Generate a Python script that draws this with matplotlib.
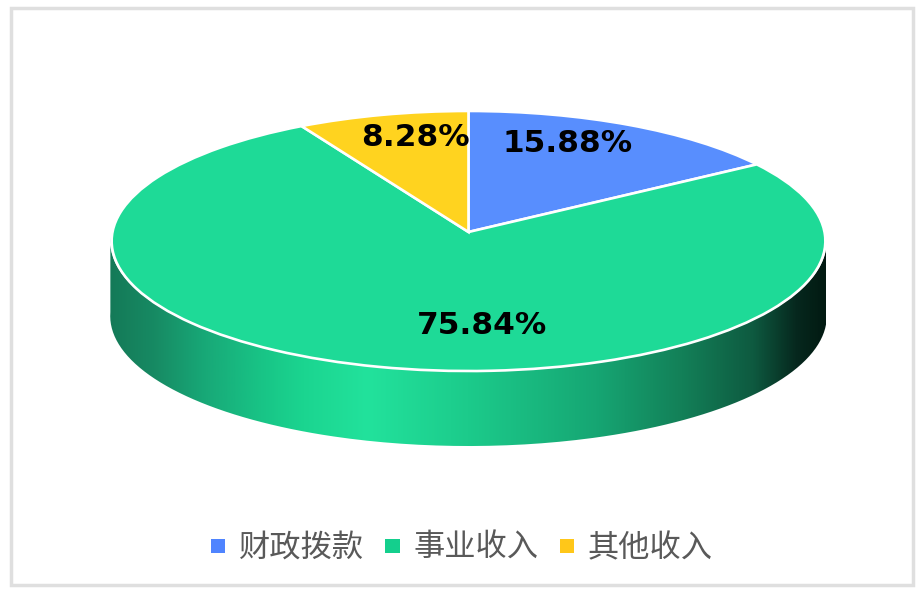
"""Perspective pie with an extruded gradient rim, drawn with matplotlib."""
import numpy as np
import matplotlib
matplotlib.use("Agg")
import matplotlib.pyplot as plt
from matplotlib.colors import LinearSegmentedColormap
from matplotlib.patches import Patch, PathPatch, Rectangle
from matplotlib.path import Path
from matplotlib.transforms import Transform

plt.rcParams["font.family"] = ["Noto Sans CJK SC", "DejaVu Sans"]

categories = ["财政拨款", "事业收入", "其他收入"]
shares = [15.88, 75.84, 8.28]
slice_colors = ["#588efe", "#1eda97", "#ffd31f"]
legend_colors = ["#4f84ff", "#14cf8d", "#ffc719"]

# label centres, in pixels
label_xy = [(568, 143), (482, 326), (415, 137)]

# rim shading, left to right (fraction of width, colour)
rim_stops = [
    (0.00, "#147a58"), (0.06, "#178a63"), (0.13, "#18a877"), (0.21, "#18c486"),
    (0.27, "#1bd590"), (0.36, "#22e29c"), (0.50, "#1ccb8b"), (0.68, "#16a673"),
    (0.80, "#138058"), (0.90, "#0e5a40"), (0.96, "#06281e"), (1.00, "#021a12"),
]

W, H = 924, 594
CX, CY = 468.5, 232.0   # where the pie centre lands
RX, RY = 356.0, 129.4
TILT = 0.0692           # far side of the disc shrinks a little
DEPTH = 75


class DiscView(Transform):
    """Unit circle -> tilted disc, in pixel coordinates."""
    input_dims = 2
    output_dims = 2

    def transform_non_affine(self, values):
        x, y = np.asarray(values).T
        d = 1 + TILT * y
        return np.column_stack([CX + RX * x / d, CY - RY * y / d])


fig = plt.figure(figsize=(W / 100, H / 100), dpi=100, facecolor="white")
ax = fig.add_axes([0, 0, 1, 1])

view = DiscView()
wedges, _, autotexts = ax.pie(
    shares, colors=slice_colors, startangle=90, counterclock=False,
    autopct="%.2f%%", wedgeprops={"edgecolor": "white", "linewidth": 1.9, "zorder": 3},
)
for w in wedges:
    w.set_transform(view + ax.transData)
for t, xy in zip(autotexts, label_xy):
    t.set_position(xy)
    t.set_ha("center")
    t.set_va("center")
    t.set_family("DejaVu Sans")
    t.set_fontweight("bold")
    t.set_fontsize(22.5)
    t.set_color("black")
    t.set_zorder(5)

# rim: lower half of the disc edge, swept down by DEPTH (a hair wider than the disc)
th = np.linspace(np.pi + 0.04, 2 * np.pi - 0.04, 200)
edge = view.transform(np.column_stack([np.cos(th) * 1.004, np.sin(th)]))
rim = np.vstack([edge, edge[::-1] + [0, DEPTH]])
rim_patch = PathPatch(Path(rim, closed=False), facecolor="none", edgecolor="none")
ax.add_patch(rim_patch)

rim_cmap = LinearSegmentedColormap.from_list("rim", rim_stops, N=256)
img = ax.imshow(np.linspace(0, 1, 256)[None, :], cmap=rim_cmap, aspect="auto",
                extent=(110, 826, H, 0), zorder=1)
img.set_clip_path(rim_patch)

ax.add_patch(Rectangle((11, 7.5), 901.5, 577, facecolor="none", edgecolor="#dfdfdf", linewidth=2.5, zorder=2))

handles = [Patch(facecolor=c, edgecolor="none") for c in legend_colors]
ax.legend(handles, categories, ncol=3, loc="center", bbox_to_anchor=(462, 548),
          bbox_transform=ax.transData, frameon=False, fontsize=22.5, labelcolor="#595959",
          handlelength=0.45, handleheight=0.34, handletextpad=0.45, columnspacing=0.68,
          borderpad=0, borderaxespad=0)

ax.set_aspect("auto")
ax.set_xlim(0, W)
ax.set_ylim(H, 0)
ax.axis("off")

fig.savefig("out.png", dpi=100, facecolor="white")
